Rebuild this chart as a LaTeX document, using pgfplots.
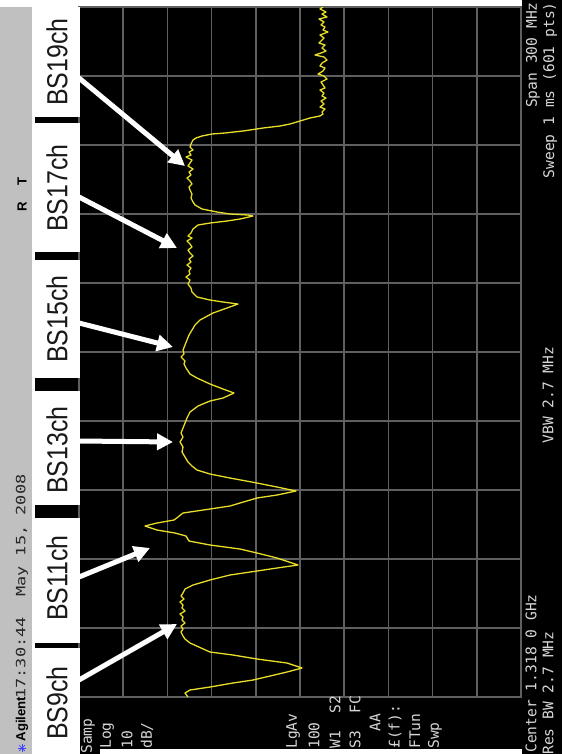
\documentclass[border=0pt]{standalone}
\usepackage{fontspec}
\setmainfont{Liberation Sans}
\newfontfamily\monofont{DejaVu Sans Mono}
\usepackage{graphicx}
\usepackage{pgfplots}
\pgfplotsset{compat=1.18}
\usepackage{pgfplotstable}
\usetikzlibrary{arrows.meta}
\definecolor{gridgrey}{RGB}{95,95,95}
\definecolor{tracecol}{RGB}{232,222,40}
\definecolor{band}{RGB}{192,192,192}
\definecolor{scrtext}{RGB}{215,215,215}

% trace, in screen pixels (px = level axis, py = frequency axis)
\pgfplotstableread{
px py
323 7
320 9
326 12
322 14
327 17
319 19
324 22
321 25
325 27
323 30
328 32
320 35
324 38
322 40
319 43
325 45
322 48
326 51
321 53
315 55
324 57
327 60
322 63
320 66
325 68
323 71
318 74
324 76
327 79
321 82
323 85
325 88
320 90
324 93
322 96
326 98
321 101
324 104
320 107
325 109
322 112
323 114
320 116
310 118
300 121
290 124
280 126
263 128
250 130
243 131
225 133
212 134
202 136
196 138
193 140
191 144
190 147
193 150
189 152
191 155
186 157
192 160
190 163
188 166
193 169
189 172
191 175
187 178
190 181
192 184
189 187
190 190
192 194
191 198
193 202
195 205
202 209
217 212
230 214
248 215
253 216
240 219
227 221
210 223
198 225
193 229
191 233
188 236
192 238
187 241
190 244
192 247
188 250
190 253
193 256
189 259
191 262
187 265
191 268
189 271
190 274
186 277
190 280
188 284
191 288
192 292
197 297
210 300
223 302
238 304
227 308
213 313
200 320
195 325
192 330
189 335
187 340
185 345
183 350
184 354
181 357
185 361
184 364
186 368
190 374
197 378
210 384
223 389
234 393
223 398
210 401
198 406
190 412
187 418
185 423
183 428
181 433
183 437
180 442
183 447
182 452
185 457
188 462
192 466
197 470
210 474
230 478
257 483
277 487
296 491
277 495
257 498
240 503
230 506
210 509
183 513
178 517
174 520
157 523
145 526
157 530
175 533
186 536
189 541
210 545
240 549
257 553
277 558
298 565
277 568
257 571
230 575
210 580
193 585
185 589
183 593
181 596
184 599
180 602
183 605
182 608
185 611
180 614
183 617
182 620
185 623
181 626
183 629
181 632
183 636
185 639
190 643
210 652
233 655
257 659
287 663
302 668
287 672
253 680
233 683
210 687
190 690
185 693
188 697
}\trace

\newcommand{\chlabel}[2]{\node[rotate=90, text=black!90, inner sep=0pt,
  font=\fontsize{14.5}{14.5}\selectfont] at (57,#1) {\scalebox{0.86}[1]{#2}};}
\newcommand{\scr}[3]{\node[rotate=90, anchor=west, inner sep=0pt, text=scrtext,
  font=\monofont\fontsize{7.3}{7.3}\selectfont] at (#1,#2) {#3};}

\begin{document}
\begin{tikzpicture}
\useasboundingbox (0,0) rectangle (281pt,-377pt);
\begin{scope}[x=0.5pt,y=-0.5pt]
  \fill[black] (0,0) rectangle (562,754);
  \fill[white] (0,0) rectangle (522,7);
  \fill[band] (0,7) rectangle (32,754);
  \fill[white] (100,749) rectangle (522,754);
\end{scope}

\begin{axis}[at={(39.5pt,-348.5pt)}, anchor=south west, scale only axis,
  width=221pt, height=345pt,
  xmin=79, xmax=521, ymin=7, ymax=697, y dir=reverse,
  xtick={123.2,167.4,211.6,255.8,300,344.2,388.4,432.6,476.8},
  ytick={76,145,214,283,352,421,490,559,628},
  xticklabels={}, yticklabels={}, major tick length=0pt,
  grid=major, major grid style={draw=gridgrey, line width=0.75pt},
  axis line style={draw=gridgrey, line width=0.75pt}]
\addplot[tracecol, line width=0.65pt, mark=none, line join=round] table {\trace};
\end{axis}

\begin{scope}[x=0.5pt,y=-0.5pt]
  % label boxes
  \fill[white] (32,7) rectangle (35,754);
  \fill[white] (35,7) rectangle (80,117);
  \fill[white] (35,123) rectangle (80,252);
  \fill[white] (35,260) rectangle (80,378);
  \fill[white] (35,391) rectangle (80,505);
  \fill[white] (35,518) rectangle (80,643);
  \fill[white] (35,648) rectangle (80,754);
  \chlabel{62}{BS19ch}
  \chlabel{188}{BS17ch}
  \chlabel{319}{BS15ch}
  \chlabel{450}{BS13ch}
  \chlabel{578}{BS11ch}
  \chlabel{703}{BS9ch}
  % arrows
  \begin{scope}[white, line width=2.5pt, -{Triangle[length=8pt,width=8pt]}]
    \draw (79,78) -- (185,166);
    \draw (79,197) -- (177,248);
    \draw (79,323) -- (173,347);
    \draw (79,441) -- (173,442);
    \draw (79,577) -- (150,548);
    \draw (79,680) -- (177,624);
  \end{scope}
  % title bar
  \node[rotate=90, inner sep=0pt, font=\bfseries\fontsize{6.6}{6.6}\selectfont] at (22,719) {Agilent};
  \node[rotate=90, anchor=west, inner sep=0pt, text=black!85,
    font=\monofont\fontsize{6.4}{6.4}\selectfont] at (22,699) {\resizebox{112pt}{\height}{17:30:44 \ May 15, 2008}};
  \node[rotate=90, inner sep=0pt, font=\bfseries\fontsize{6.6}{6.6}\selectfont] at (22,207) {R};
  \node[rotate=90, inner sep=0pt, font=\bfseries\fontsize{6.6}{6.6}\selectfont] at (22,181) {T};
  \foreach \a in {0,45,...,315} \draw[blue!75, line width=0.35pt] (22,748) -- ++(\a:4);
  % left panel annotations
  \scr{88}{754}{Samp}
  \scr{107}{749}{Log}
  \scr{127}{749}{10}
  \scr{147}{749}{dB/}
  \scr{293}{749}{LgAv}
  \scr{314}{749}{100}
  \scr{335}{749}{W1\ \ S2}
  \scr{355}{749}{S3\ \ FC}
  \scr{375}{749}{\ \ AA}
  \scr{395}{749}{£(f):}
  \scr{415}{749}{FTun}
  \scr{435}{749}{Swp}
  % bottom annotations
  \scr{531}{753}{Center 1.318 0 GHz}
  \scr{548}{755}{Res BW 2.7 MHz}
  \node[rotate=90, inner sep=0pt, text=scrtext, font=\monofont\fontsize{7.3}{7.3}\selectfont] at (548,395) {VBW 2.7 MHz};
  \node[rotate=90, anchor=east, inner sep=0pt, text=scrtext, font=\monofont\fontsize{7.3}{7.3}\selectfont] at (533,2) {Span 300 MHz};
  \node[rotate=90, anchor=east, inner sep=0pt, text=scrtext, font=\monofont\fontsize{7.3}{7.3}\selectfont] at (550,2) {Sweep 1 ms (601 pts)};
\end{scope}
\end{tikzpicture}
\end{document}
